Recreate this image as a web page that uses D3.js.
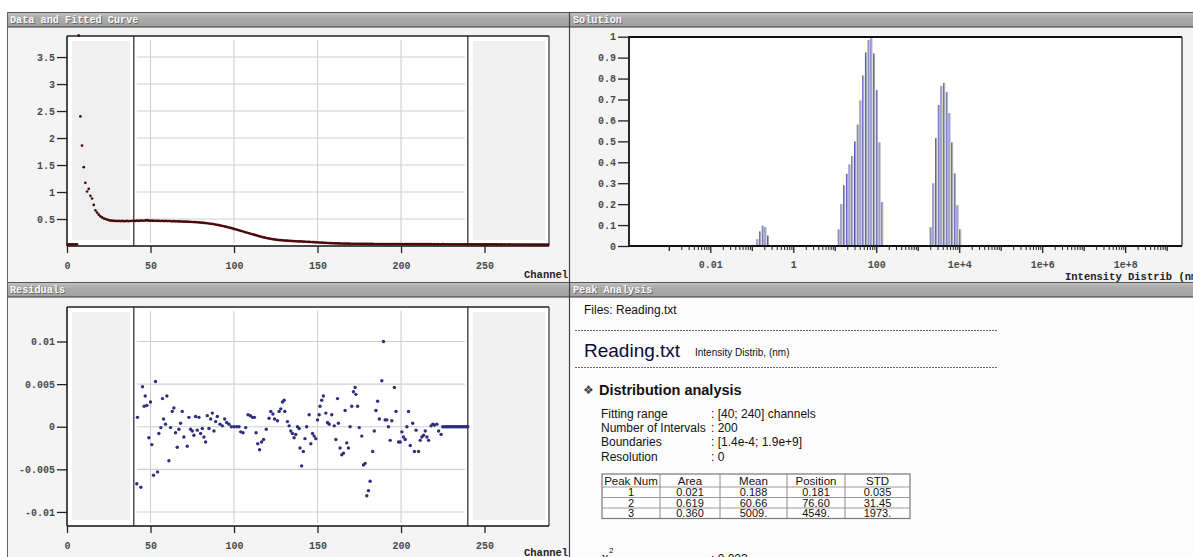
<!DOCTYPE html>
<html><head><meta charset="utf-8">
<script src="https://cdn.jsdelivr.net/npm/d3@7"></script>
<style>body{margin:0;background:#fff;} svg{display:block;}</style>
</head><body>
<svg id="c" width="1193" height="557"></svg>
<script>
// ---------------- DATA ----------------
const panelTitles = ["Data and Fitted Curve", "Solution", "Residuals", "Peak Analysis"];

// measured data (first channel = 0)
const dataStart = 0;
const dataValues = [
 0.03,0.03,0.03,0.03,0.03,0.03,0.03,3.9,2.4,1.86,
 1.46,1.17,1.01,1.06,0.93,0.88,0.76,0.66,0.62,0.58,
 0.55,0.53,0.51,0.50,0.49,0.48,0.47,0.47,0.466,0.465,
 0.463,0.465,0.462,0.464,0.46,0.462,0.465,0.461,0.463,0.466,
 0.468,0.465,0.47,0.467,0.469,0.472,0.468,0.474,0.478,0.47,
 0.469,0.47,0.466,0.468,0.465,0.467,0.463,0.466,0.462,0.464,
 0.461,0.463,0.46,0.458,0.46,0.457,0.458,0.455,0.456,0.453,
 0.452,0.45,0.451,0.448,0.447,0.445,0.444,0.441,0.44,0.437,
 0.434,0.432,0.428,0.425,0.421,0.417,0.412,0.408,0.403,0.397,
 0.392,0.386,0.379,0.373,0.366,0.358,0.351,0.343,0.334,0.326,
 0.317,0.309,0.3,0.291,0.282,0.273,0.263,0.254,0.245,0.236,
 0.227,0.218,0.209,0.2,0.191,0.182,0.174,0.166,0.158,0.151,
 0.144,0.138,0.132,0.126,0.121,0.117,0.113,0.11,0.107,0.105,
 0.102,0.1,0.098,0.096,0.094,0.092,0.09,0.088,0.087,0.085,
 0.084,0.082,0.08,0.079,0.077,0.076,0.074,0.072,0.071,0.069,
 0.067,0.065,0.063,0.061,0.059,0.058,0.056,0.054,0.053,0.051,
 0.05,0.049,0.048,0.047,0.046,0.045,0.045,0.044,0.043,0.043,
 0.042,0.042,0.041,0.041,0.04,0.04,0.04,0.039,0.039,0.039,
 0.038,0.038,0.038,0.038,0.037,0.037,0.037,0.037,0.036,0.036,
 0.036,0.036,0.036,0.035,0.035,0.035,0.035,0.035,0.035,0.035,
 0.035,0.034,0.035,0.034,0.034,0.035,0.034,0.034,0.033,0.034,
 0.034,0.033,0.034,0.033,0.033,0.034,0.033,0.033,0.033,0.032,
 0.033,0.032,0.033,0.032,0.032,0.033,0.032,0.032,0.032,0.031,
 0.032,0.031,0.032,0.031,0.031,0.032,0.031,0.031,0.031,0.031,
 0.03,0.031,0.03,0.03,0.031,0.03,0.03,0.03,0.029,0.03,
 0.03,0.029,0.03,0.029,0.029,0.03,0.029,0.029,0.029,0.028,
 0.029,0.028,0.029,0.028,0.028,0.029,0.028,0.028,0.028,0.028,
 0.028,0.027,0.028,0.027,0.027,0.028,0.027,0.027,0.027,0.027,
 0.027,0.026,0.027,0.026,0.026,0.027,0.026,0.026,0.026,0.026
];
// fitted curve
const fitChannels = [40,50,60,70,80,90,100,110,120,130,140,150,160,180,200,240,289];
const fitValues   = [0.468,0.47,0.462,0.452,0.434,0.392,0.317,0.227,0.144,0.102,0.084,0.067,0.05,0.038,0.035,0.031,0.026];

// residuals
const resChannels = [41.8,42.2,44.2,45.2,46.2,46.8,47.8,49,50,50.8,51.8,53,54.2,55,56.2,57.2,57.8,59,59.8,61,62,63,64,65,66,67,68,69,70,72,73,74,75,76,77,78,79,80,81,82,83,84,85,86,87,88,89,90,91.6,93,94.4,95.6,97,98.4,100,101.6,103,104,105.4,107,108.4,109.8,111,112.2,113.2,114.2,115.3,116.5,117.7,119.3,121,122,123.3,124.3,126,127,128,129,130,130.4,132,133,134,135,136,137,138,139,139.5,140.5,141.5,142.5,143.5,145,146,147,148,149,150,151,151.5,152.5,153.5,155,156,157,158.5,160,161,162,162.5,163.5,164.5,165.5,166.5,167.5,168.5,169.5,170.5,171.5,172.5,173,174,175,176.5,177.5,178.5,179.5,180.5,181.5,183,184,185,186,187,188.5,189.5,190.5,191.5,192.5,193.5,194.5,196,197,198.5,199.5,200.5,201.5,202.5,203.5,204.5,205.5,207,208,209,210.5,211.5,212.5,213.5,214.5,215.5,216.5,218,219,220,221.5,222.5,224,225,226,227,228,229,230,231,232,233,234,235,236,237,238,239,240];
const resValues = [-0.0067,0.0011,-0.0071,0.0047,0.0024,0.0036,0.0025,-0.0013,0.0029,-0.0021,-0.0057,0.0053,-0.0053,-0.0008,-0.0001,0.0033,0.0009,0.0003,0.0036,-0.004,-0.0001,0.0018,0.0022,-0.0007,-0.0024,-0.0003,0.0004,0.0018,-0.0012,-0.0023,0.0011,-0.0003,-0.0005,-0.001,0.0012,-0.0004,0.0011,-0.0008,-0.0002,-0.0012,-0.0018,0.0013,-0.0002,0.0009,0.0016,-0.0005,0.0006,0.0012,0.0003,0.0001,0.0009,0.0005,0.0003,0,0,0,0,-0.0006,-0.0007,-0.0001,0.0014,0.0013,0.0011,0.0011,-0.0007,-0.002,-0.0027,-0.0018,-0.0015,-0.0003,0.001,0.0018,0.0015,0.0009,0.0007,0.0018,0.0021,0.0029,0.0031,0.0018,0.0006,0.0001,-0.0005,-0.0008,-0.0013,-0.0009,0,-0.0002,-0.0025,-0.0046,-0.0029,-0.0014,0,0.0014,-0.002,-0.0008,-0.0011,-0.0014,0.0008,0.0014,0.0024,0.0031,0.0036,0.0016,0.0005,0.0003,0.0014,0.0001,-0.0015,0.0033,0.0004,-0.0025,-0.0033,-0.0031,0.0019,-0.0019,-0.0025,0,0.0024,0.0041,0.0046,0.0038,0.0024,-0.0001,-0.0011,-0.0045,-0.0043,-0.0081,-0.0075,-0.0064,-0.0029,-0.0005,0.0019,0.003,0.0009,0.0054,0.01,0.0008,0.0008,0,-0.0016,0.0007,0.0046,0.0018,-0.0018,-0.0018,-0.0006,-0.0012,-0.0015,0,0.0018,-0.0022,0.0004,-0.0029,-0.0004,-0.0029,-0.0016,-0.0012,-0.001,-0.0005,-0.0012,-0.0016,0.0001,0.0003,0.0002,0.0003,-0.0005,-0.0009,0,0,0,0,0,0,0,0,0,0,0,0,0,0,0,0];

// solution (intensity distribution)
const solSizes = [0.136,0.158,0.183,0.212,0.245,
  12.4,14.4,16.7,19.5,22.6,26.3,30.6,35.6,41.5,48.2,56.1,65.3,75.9,88.3,102.8,119.5,139,
  2046,2376,2754,3199,3707,4305,4989,5794,6714,7798,9036,10495];
const solIntensity = [0.033,0.07,0.097,0.09,0.05,
  0.08,0.2,0.29,0.345,0.39,0.43,0.5,0.58,0.695,0.815,0.925,0.985,1.0,0.92,0.745,0.495,0.21,
  0.09,0.3,0.515,0.674,0.765,0.78,0.735,0.635,0.495,0.347,0.195,0.08];

// tick labels
const dataYTicks = [0.5,1,1.5,2,2.5,3,3.5];
const channelTicks = [0,50,100,150,200,250];
const resYTicks = [0.01,0.005,0,-0.005,-0.01];
const resYLabels = ["0.01","0.005","0","-0.005","-0.01"];
const solYTicks = [0,0.1,0.2,0.3,0.4,0.5,0.6,0.7,0.8,0.9,1];
const solXLabeled = [0.01,1,100,1e4,1e6,1e8];
const solXLabels = ["0.01","1","100","1e+4","1e+6","1e+8"];
const solXDecades = [1e-3,0.1,10,1000,1e5,1e7,1e9];
const solMinorMult = [2,3,4,5,6,7,8,9];
const solMinorExp = [-3,-2,-1,0,1,2,3,4,5,6,7,8];

// peak analysis text
const paramNames = ["Fitting range","Number of Intervals","Boundaries","Resolution"];
const paramValues = [": [40; 240] channels",": 200",": [1.4e-4; 1.9e+9]",": 0"];
const tableHeader = ["Peak Num","Area","Mean","Position","STD"];
const tableRows = [
  ["1","0.021","0.188","0.181","0.035"],
  ["2","0.619","60.66","76.60","31.45"],
  ["3","0.360","5009.","4549.","1973."]
];

// ---------------- DRAW ----------------
const MONO = "'Liberation Mono','DejaVu Sans Mono',monospace";
const SANS = "'Liberation Sans',Arial,sans-serif";
const svg = d3.select("#c");
svg.append("rect").attr("width",1193).attr("height",557).attr("fill","#fff");

// panel bodies
svg.append("rect").attr("x",7).attr("y",27).attr("width",562).attr("height",255).attr("fill","#f4f4f4");
svg.append("rect").attr("x",570).attr("y",27).attr("width",623).attr("height",255).attr("fill","#f4f4f4");
svg.append("rect").attr("x",7).attr("y",297).attr("width",562).attr("height",260).attr("fill","#f4f4f4");
svg.append("rect").attr("x",570).attr("y",297).attr("width",623).attr("height",260).attr("fill","#fcfcfc");

const defs = svg.append("defs");
const lg = defs.append("linearGradient").attr("id","hg").attr("x1",0).attr("x2",0).attr("y1",0).attr("y2",1);
lg.append("stop").attr("offset","0%").attr("stop-color","#c4c4c4");
lg.append("stop").attr("offset","40%").attr("stop-color","#aaaaaa");
lg.append("stop").attr("offset","100%").attr("stop-color","#a2a2a2");

function header(x,y,w,title){
  const g = svg.append("g");
  g.append("rect").attr("x",x).attr("y",y).attr("width",w).attr("height",15).attr("fill","url(#hg)");
  g.append("line").attr("x1",x).attr("x2",x+w).attr("y1",y+0.5).attr("y2",y+0.5).attr("stroke","#555");
  g.append("line").attr("x1",x).attr("x2",x+w).attr("y1",y+15).attr("y2",y+15).attr("stroke","#333").attr("stroke-width",1.2);
  g.append("text").attr("x",x+3.8).attr("y",y+11.6).text(title)
   .attr("font-family",MONO).attr("font-weight","bold").attr("font-size",10.2).attr("fill","#666");
  g.append("text").attr("x",x+3).attr("y",y+10.9).text(title)
   .attr("font-family",MONO).attr("font-weight","bold").attr("font-size",10.2).attr("fill","#fafafa");
}
header(7,12,562,panelTitles[0]);
header(570,12,623,panelTitles[1]);
header(7,282,562,panelTitles[2]);
header(570,282,623,panelTitles[3]);
// separators
svg.append("line").attr("x1",569.5).attr("x2",569.5).attr("y1",12).attr("y2",557).attr("stroke","#444").attr("stroke-width",1.2);
svg.append("line").attr("x1",7.5).attr("x2",7.5).attr("y1",12).attr("y2",557).attr("stroke","#666").attr("stroke-width",1);

function styleAxis(g){
  g.select(".domain").remove();
  g.selectAll(".tick line").attr("stroke","#222").attr("stroke-width",1.3);
  g.selectAll(".tick text").attr("font-family",MONO).attr("font-size",10).attr("font-weight","bold").attr("fill","#4a4a4a");
}

// ---------- channel plot helper ----------
function channelFrame(y, top, bottom, yTicks, yLabels, labelY){
  const x = d3.scaleLinear().domain([0,288.6]).range([67,549]);
  const g = svg.append("g");
  g.append("rect").attr("x",67).attr("y",top).attr("width",482).attr("height",bottom-top).attr("fill","#fff");
  g.append("rect").attr("x",x(0)+5).attr("y",top+5).attr("width",x(40)-x(0)-9).attr("height",bottom-top-11).attr("fill","#efefef");
  g.append("rect").attr("x",x(240)+5).attr("y",top+5).attr("width",x(288.6)-x(240)-9).attr("height",bottom-top-11).attr("fill","#efefef");
  g.selectAll(".hg").data(yTicks).enter().append("line")
   .attr("x1",x(40)+3).attr("x2",x(240)-3).attr("y1",d=>y(d)).attr("y2",d=>y(d)).attr("stroke","#cfcfcf").attr("stroke-width",1.1);
  g.selectAll(".vg").data(channelTicks.filter(d=>d>40&&d<240)).enter().append("line")
   .attr("x1",d=>x(d)).attr("x2",d=>x(d)).attr("y1",top+4).attr("y2",bottom-3).attr("stroke","#cfcfcf").attr("stroke-width",1.1);
  [40,240].forEach(c=>g.append("line").attr("x1",x(c)).attr("x2",x(c)).attr("y1",top).attr("y2",bottom).attr("stroke","#222").attr("stroke-width",1.2));
  g.append("line").attr("x1",67).attr("x2",549).attr("y1",top).attr("y2",top).attr("stroke","#222").attr("stroke-width",1.5);
  g.append("line").attr("x1",549).attr("x2",549).attr("y1",top).attr("y2",bottom).attr("stroke","#333").attr("stroke-width",1.2);
  g.append("line").attr("x1",67).attr("x2",67).attr("y1",top).attr("y2",bottom).attr("stroke","#111").attr("stroke-width",1.5);
  g.append("line").attr("x1",67).attr("x2",549).attr("y1",bottom).attr("y2",bottom).attr("stroke","#111").attr("stroke-width",1.5);
  const ax = g.append("g").attr("transform","translate(0,"+bottom+")")
    .call(d3.axisBottom(x).tickValues(channelTicks).tickSize(7).tickPadding(9).tickFormat(d3.format("d")));
  styleAxis(ax);
  const ay = g.append("g").attr("transform","translate(67,0)")
    .call(d3.axisLeft(y).tickValues(yTicks).tickSize(10).tickPadding(2).tickFormat((d,i)=>yLabels[i]));
  styleAxis(ay);
  g.append("text").attr("x",524).attr("y",labelY).text("Channel")
   .attr("font-family",MONO).attr("font-size",10.5).attr("font-weight","bold").attr("fill","#222");
  return {x,g};
}

// ---------- Data and fitted curve ----------
const yD = d3.scaleLinear().domain([0,3.89]).range([246,36]);
const P1 = channelFrame(yD,36,246,dataYTicks,dataYTicks.map(String),278);
const xC = P1.x;
defs.append("clipPath").attr("id","cp1").append("rect").attr("x",67).attr("y",34).attr("width",482).attr("height",213);
const dl = svg.append("g").attr("clip-path","url(#cp1)");
dl.append("path").datum(fitChannels.map((c,i)=>[c,fitValues[i]]))
  .attr("d",d3.line().x(d=>xC(d[0])).y(d=>yD(d[1])).curve(d3.curveMonotoneX))
  .attr("fill","none").attr("stroke","#d02020").attr("stroke-width",1.3);
dl.selectAll("circle").data(dataValues).enter().append("circle")
  .attr("cx",(d,i)=>xC(dataStart+i)).attr("cy",d=>yD(d)).attr("r",1.35).attr("fill","#4a0a0a");

// ---------- Residuals ----------
const yR = d3.scaleLinear().domain([-0.01165,0.01405]).range([526,307]);
channelFrame(yR,307,526,resYTicks,resYLabels,556);
svg.append("g").selectAll("circle").data(resValues).enter().append("circle")
  .attr("cx",(d,i)=>xC(resChannels[i])).attr("cy",d=>yR(d)).attr("r",1.7).attr("fill","#2e2e7e");

// ---------- Solution ----------
const xS = d3.scaleLog().domain([Math.pow(10,-3.96),Math.pow(10,9.37)]).range([629,1182]);
const yS = d3.scaleLinear().domain([0,1]).range([246,36.7]);
const sg = svg.append("g");
sg.append("rect").attr("x",629).attr("y",36.7).attr("width",553).attr("height",209.3).attr("fill","#fff");
const bars = sg.append("g");
bars.selectAll(".b1").data(solIntensity).enter().append("rect")
  .attr("x",(d,i)=>xS(solSizes[i])-0.9).attr("width",1).attr("y",d=>yS(d)).attr("height",d=>yS(0)-yS(d)).attr("fill","#5656b8");
bars.selectAll(".b2").data(solIntensity).enter().append("rect")
  .attr("x",(d,i)=>xS(solSizes[i])+0.1).attr("width",1).attr("y",d=>yS(d)).attr("height",d=>yS(0)-yS(d)).attr("fill","#a2a2ac");
sg.append("line").attr("x1",629).attr("x2",1182).attr("y1",37).attr("y2",37).attr("stroke","#111").attr("stroke-width",2);
sg.append("line").attr("x1",1182).attr("x2",1182).attr("y1",37).attr("y2",246).attr("stroke","#333").attr("stroke-width",1.3);
sg.append("line").attr("x1",629).attr("x2",629).attr("y1",36).attr("y2",247).attr("stroke","#111").attr("stroke-width",1.8);
sg.append("line").attr("x1",629).attr("x2",1182).attr("y1",246).attr("y2",246).attr("stroke","#111").attr("stroke-width",1.8);
const minorVals = [];
solMinorExp.forEach(e=>solMinorMult.forEach(m=>minorVals.push(m*Math.pow(10,e))));
const axMin = sg.append("g").attr("transform","translate(0,246)").call(d3.axisBottom(xS).tickValues(minorVals).tickSize(4).tickFormat(""));
styleAxis(axMin); axMin.selectAll(".tick line").attr("stroke-width",1);
const axDec = sg.append("g").attr("transform","translate(0,246)").call(d3.axisBottom(xS).tickValues(solXDecades).tickSize(5).tickFormat(""));
styleAxis(axDec);
const axLab = sg.append("g").attr("transform","translate(0,246)").call(d3.axisBottom(xS).tickValues(solXLabeled).tickSize(7).tickPadding(8).tickFormat((d,i)=>solXLabels[i]));
styleAxis(axLab);
const ayS = sg.append("g").attr("transform","translate(629,0)").call(d3.axisLeft(yS).tickValues(solYTicks).tickSize(11).tickPadding(2).tickFormat(d3.format("~g")));
styleAxis(ayS);
sg.append("text").attr("x",1065).attr("y",279.5).text("Intensity Distrib (nm)")
  .attr("font-family",MONO).attr("font-size",10.5).attr("font-weight","bold").attr("fill","#222");

// ---------- Peak Analysis ----------
const pa = svg.append("g").attr("font-family",SANS).attr("fill","#111");
pa.append("text").attr("x",584).attr("y",314).attr("font-size",12).text("Files: Reading.txt");
pa.append("line").attr("x1",575).attr("x2",998).attr("y1",330.5).attr("y2",330.5).attr("stroke","#666").attr("stroke-dasharray","2,1");
pa.append("text").attr("x",584).attr("y",357).attr("font-size",19).attr("fill","#0a0a3a").text("Reading.txt");
pa.append("text").attr("x",695).attr("y",356).attr("font-size",10).attr("font-family","'Liberation Sans Narrow','Liberation Sans',Arial,sans-serif").text("Intensity Distrib, (nm)");
pa.append("line").attr("x1",575).attr("x2",998).attr("y1",367.5).attr("y2",367.5).attr("stroke","#666").attr("stroke-dasharray","2,1");
pa.append("text").attr("x",583).attr("y",394).attr("font-size",12).attr("fill","#444").attr("font-family","'DejaVu Sans',sans-serif").text("\u2756");
pa.append("text").attr("x",599).attr("y",395).attr("font-size",14.5).attr("font-weight","bold").text("Distribution analysis");
const prow = [418,432,446,461];
paramNames.forEach((n,i)=>{
  pa.append("text").attr("x",601).attr("y",prow[i]).attr("font-size",12).text(n);
  pa.append("text").attr("x",711).attr("y",prow[i]).attr("font-size",12).text(paramValues[i]);
});
// table
const colX = [602,660,720,787,845,910];
const rowY = [474,487,497.5,508,518.5];
const textY = [484.5,496,506.5,517];
const tb = pa.append("g");
tb.append("rect").attr("x",colX[0]).attr("y",rowY[0]).attr("width",colX[5]-colX[0]).attr("height",rowY[4]-rowY[0]).attr("fill","#fff").attr("stroke","#777").attr("stroke-width",1.2);
colX.slice(1,5).forEach(cx=>tb.append("line").attr("x1",cx).attr("x2",cx).attr("y1",rowY[0]).attr("y2",rowY[4]).attr("stroke","#888"));
rowY.slice(1,4).forEach(ry=>tb.append("line").attr("x1",colX[0]).attr("x2",colX[5]).attr("y1",ry).attr("y2",ry).attr("stroke","#999"));
tableHeader.forEach((h,i)=>tb.append("text").attr("x",(colX[i]+colX[i+1])/2).attr("y",textY[0]).attr("text-anchor","middle").attr("font-size",11.5).text(h));
tableRows.forEach((r,j)=>r.forEach((v,i)=>tb.append("text").attr("x",(colX[i]+colX[i+1])/2).attr("y",textY[j+1]).attr("text-anchor","middle").attr("font-size",11).text(v)));
pa.append("text").attr("x",602).attr("y",562).attr("font-size",12).text("\u03c7");
pa.append("text").attr("x",609).attr("y",553).attr("font-size",8).text("2");
pa.append("text").attr("x",711).attr("y",563).attr("font-size",12).text(": 0.003");
</script>
</body></html>
